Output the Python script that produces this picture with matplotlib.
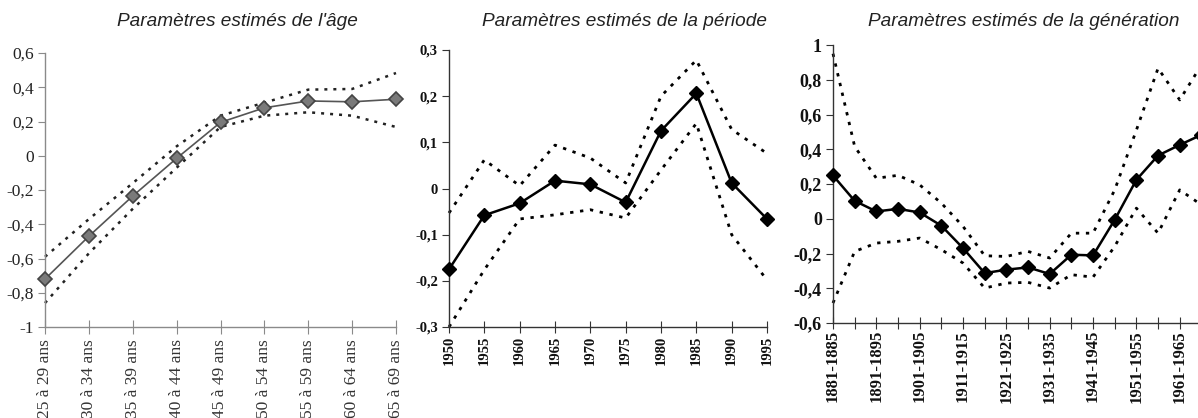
import matplotlib
matplotlib.use("Agg")
import matplotlib.pyplot as plt
from matplotlib.ticker import FixedLocator, FuncFormatter

# ---------------- data ----------------
age_labels = ["25 à 29 ans", "30 à 34 ans", "35 à 39 ans", "40 à 44 ans", "45 à 49 ans",
              "50 à 54 ans", "55 à 59 ans", "60 à 64 ans", "65 à 69 ans"]
age_est = [-0.72, -0.47, -0.235, -0.015, 0.195, 0.28, 0.32, 0.315, 0.33]
age_upper = [-0.59, -0.37, -0.16, 0.055, 0.234, 0.31, 0.386, 0.39, 0.483]
age_lower = [-0.86, -0.57, -0.31, -0.07, 0.168, 0.234, 0.254, 0.234, 0.168]

period_labels = ["1950", "1955", "1960", "1965", "1970", "1975", "1980", "1985", "1990", "1995"]
period_est = [-0.175, -0.058, -0.032, 0.017, 0.009, -0.03, 0.125, 0.206, 0.012, -0.066]
period_upper = [-0.053, 0.062, 0.006, 0.094, 0.066, 0.012, 0.2, 0.278, 0.128, 0.076]
period_lower = [-0.3, -0.176, -0.066, -0.057, -0.046, -0.064, 0.04, 0.141, -0.1, -0.198]

gen_labels = ["1881-1885", "1886-1890", "1891-1895", "1896-1900", "1901-1905", "1906-1910",
              "1911-1915", "1916-1920", "1921-1925", "1926-1930", "1931-1935", "1936-1940",
              "1941-1945", "1946-1950", "1951-1955", "1956-1960", "1961-1965", "1966-1970"]
gen_est = [0.249, 0.103, 0.042, 0.057, 0.036, -0.04, -0.169, -0.313, -0.293, -0.28,
           -0.318, -0.207, -0.211, -0.006, 0.224, 0.364, 0.425, 0.483]
gen_upper = [0.95, 0.416, 0.233, 0.25, 0.195, 0.09, -0.044, -0.213, -0.217, -0.188,
             -0.226, -0.083, -0.083, 0.166, 0.51, 0.866, 0.684, 0.885]
gen_lower = [-0.485, -0.188, -0.14, -0.13, -0.111, -0.178, -0.255, -0.399, -0.37, -0.366,
             -0.399, -0.322, -0.336, -0.159, 0.061, -0.083, 0.166, 0.08]

titles = ["Paramètres estimés de l'âge", "Paramètres estimés de la période",
          "Paramètres estimés de la génération"]

W, H = 1198, 418
fig = plt.figure(figsize=(W / 100, H / 100), dpi=100)
fig.patch.set_facecolor("white")


def ax_px(x0, y_top, x1, y_bot):
    return fig.add_axes([x0 / W, 1 - y_bot / H, (x1 - x0) / W, (y_bot - y_top) / H])


def comma(v, pos=None):
    if abs(v) < 1e-9:
        return "0"
    s = ("%.1f" % v).replace(".", ",")
    if s.endswith(",0"):
        s = s[:-2]
    return s


def style(ax, color, lw):
    for s in ["top", "right"]:
        ax.spines[s].set_visible(False)
    for s in ["left", "bottom"]:
        ax.spines[s].set_color(color)
        ax.spines[s].set_linewidth(lw)
    ax.set_facecolor("none")


dots = (0, (1.2, 2.4))
serif = ["Liberation Serif", "DejaVu Serif"]

# ---------- panel 1 : age ----------
ax1 = ax_px(45, 53, 396, 327)
style(ax1, "#8a8a8a", 1.0)
x1 = list(range(len(age_labels)))
ax1.plot(x1, age_upper, color="#222222", lw=1.8, ls=dots, clip_on=False)
ax1.plot(x1, age_lower, color="#222222", lw=1.8, ls=dots, clip_on=False)
ax1.plot(x1, age_est, color="#555555", lw=1.2, marker="D", ms=7.5,
         mfc="#7a7a7a", mec="#444444", mew=1.2, clip_on=False, zorder=3)
ax1.set_xlim(0, len(age_labels) - 1)
ax1.set_ylim(-1, 0.6)
ax1.yaxis.set_major_locator(FixedLocator([-1, -0.8, -0.6, -0.4, -0.2, 0, 0.2, 0.4, 0.6]))
ax1.yaxis.set_major_formatter(FuncFormatter(comma))
ax1.set_xticks(x1)
ax1.set_xticklabels(age_labels, rotation=90, family=serif, fontsize=12.5, color="#333333")
ax1.tick_params(axis="x", direction="inout", length=10, color="#8a8a8a", pad=4)
ax1.tick_params(axis="y", direction="out", length=5, color="#8a8a8a", pad=3,
                labelsize=12.5, labelcolor="#222222")
for t in ax1.get_yticklabels():
    t.set_family(serif)

# ---------- panel 2 : period ----------
ax2 = ax_px(449, 50, 767, 327)
style(ax2, "#333333", 1.0)
x2 = list(range(len(period_labels)))
ax2.plot(x2, period_upper, color="black", lw=2.0, ls=dots, clip_on=False)
ax2.plot(x2, period_lower, color="black", lw=2.0, ls=dots, clip_on=False)
ax2.plot(x2, period_est, color="black", lw=1.8, marker="D", ms=7.5,
         mfc="black", mec="black", clip_on=False, zorder=3)
ax2.set_xlim(0, len(period_labels) - 1)
ax2.set_ylim(-0.3, 0.3)
ax2.yaxis.set_major_locator(FixedLocator([-0.3, -0.2, -0.1, 0, 0.1, 0.2, 0.3]))
ax2.yaxis.set_major_formatter(FuncFormatter(comma))
ax2.set_xticks(x2)
ax2.set_xticklabels(period_labels, rotation=90, family=serif, fontsize=10.5,
                    fontweight="bold", color="#111111")
ax2.tick_params(axis="x", direction="inout", length=9, color="#333333", pad=2)
ax2.tick_params(axis="y", direction="out", length=5, color="#333333", pad=3,
                labelsize=10.5, labelcolor="#111111")
for t in ax2.get_yticklabels():
    t.set_family(serif)
    t.set_fontweight("bold")

# ---------- panel 3 : generation ----------
step = 21.67
x_left = 833
x_end = x_left + step * 17.6
ax3 = ax_px(x_left, 45, x_end, 323)
style(ax3, "#333333", 1.0)
x3 = list(range(len(gen_labels)))
ax3.plot(x3, gen_upper, color="black", lw=2.0, ls=dots, clip_on=False)
ax3.plot(x3, gen_lower, color="black", lw=2.0, ls=dots, clip_on=False)
ax3.plot(x3, gen_est, color="black", lw=1.8, marker="D", ms=7.5,
         mfc="black", mec="black", clip_on=False, zorder=3)
ax3.set_xlim(0, 17.6)
ax3.set_ylim(-0.6, 1.0)
ax3.yaxis.set_major_locator(FixedLocator([-0.6, -0.4, -0.2, 0, 0.2, 0.4, 0.6, 0.8, 1.0]))
ax3.yaxis.set_major_formatter(FuncFormatter(comma))
ax3.set_xticks(x3)
ax3.set_xticklabels([lab if i % 2 == 0 else "" for i, lab in enumerate(gen_labels)],
                    rotation=90, family=serif, fontsize=12, fontweight="bold", color="#111111")
ax3.tick_params(axis="x", direction="inout", length=8, color="#333333", pad=1)
ax3.tick_params(axis="y", direction="out", length=5, color="#333333", pad=3,
                labelsize=13, labelcolor="#111111")
for t in ax3.get_yticklabels():
    t.set_family(serif)
    t.set_fontweight("bold")

# ---------- titles ----------
for xc, txt in zip([237, 625, 1024], titles):
    fig.text(xc / W, 1 - 22 / H, txt, ha="center", va="center", style="italic",
             fontsize=13.7, family=["Liberation Sans", "DejaVu Sans"], color="#222222")

fig.savefig("out.png", dpi=100)
